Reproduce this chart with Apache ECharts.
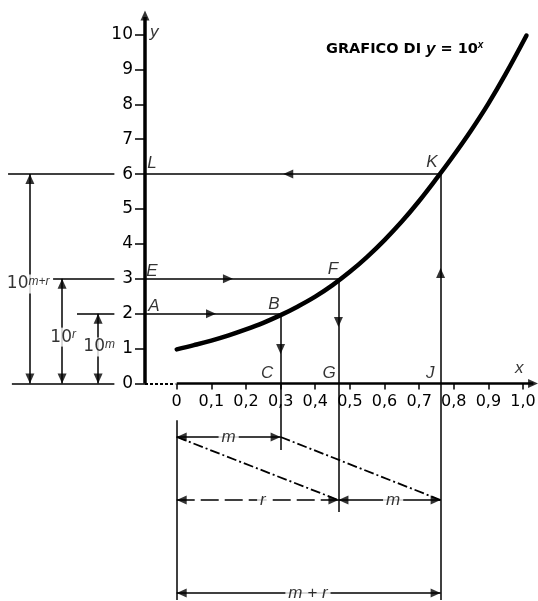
<!DOCTYPE html>
<html>
<head>
<meta charset="utf-8">
<script src="https://cdn.jsdelivr.net/npm/echarts@6/dist/echarts.min.js"></script>
<style>
  html, body { margin: 0; padding: 0; background: #fff; }
  #chart { width: 538px; height: 601px; }
</style>
</head>
<body>
<div id="chart"></div>
<script>
// curva y = 10^x
var curveX = [0, 0.05, 0.1, 0.15, 0.2, 0.25, 0.3, 0.35, 0.4, 0.45, 0.5, 0.55, 0.6, 0.65, 0.7, 0.75, 0.8, 0.85, 0.9, 0.95, 1.01]
var curveY = [0.98, 1.10, 1.23, 1.38, 1.55, 1.74, 1.96, 2.21, 2.49, 2.82, 3.20, 3.63, 4.11, 4.64, 5.23, 5.87, 6.54, 7.25, 8.02, 8.87, 9.97]

var xTicks = [0, 0.1, 0.2, 0.3, 0.4, 0.5, 0.6, 0.7, 0.8, 0.9, 1.0]
var xTickLabels = ['0', '0,1', '0,2', '0,3', '0,4', '0,5', '0,6', '0,7', '0,8', '0,9', '1,0']
var yTicks = [0, 1, 2, 3, 4, 5, 6, 7, 8, 9, 10]

var xB = 0.3, xF = 0.467, xK = 0.762
var yB = 2, yF = 3, yK = 6
var xAxisY = -0.0916   // dove sta l'asse y
var xLeftEnd = -0.18   // fine delle linee a sinistra delle etichette

// segmenti [x1, y1, x2, y2]
var thinSegs = [
  [-0.487, yK, xLeftEnd, yK], [xAxisY, yK, xK, yK],
  [-0.357, yF, xLeftEnd, yF], [xAxisY, yF, xF, yF],
  [-0.288, yB, xLeftEnd, yB], [xAxisY, yB, xB, yB],
  [-0.476, 0, xLeftEnd, 0],
  [xB, yB, xB, -1.9],
  [xF, yF, xF, -3.68],
  [xK, yK, xK, -6.2],
  [0, -1.05, 0, -6.2],
  [-0.424, 0, -0.424, yK],
  [-0.331, 0, -0.331, yF],
  [-0.227, 0, -0.227, yB],
  [0, -1.53, xB, -1.53],
  [xF, -3.337, xK, -3.337],
  [0, -6.0, xK, -6.0]
]
var dashSegs = [[0, -3.337, xF, -3.337]]
var dashDotSegs = [[0, -1.53, xF, -3.337], [xB, -1.53, xK, -3.337]]

// frecce [x, y, rotazione]
var arrows = [
  [xAxisY, 10.54, 0], [1.029, 0, -90],
  [0.322, yK, 90], [0.148, yF, -90], [0.099, yB, -90],
  [xB, 0.988, 180], [xF, 1.76, 180], [xK, 3.165, 0],
  [-0.424, 5.86, 0], [-0.424, 0.143, 180],
  [-0.331, 2.857, 0], [-0.331, 0.143, 180],
  [-0.227, 1.857, 0], [-0.227, 0.143, 180],
  [0.0144, -1.53, 90], [0.2856, -1.53, -90],
  [0.0144, -3.337, 90], [0.4526, -3.337, -90],
  [0.4814, -3.337, 90], [0.7476, -3.337, -90],
  [0.0144, -6.0, 90], [0.7476, -6.0, -90]
]

var pointNames = ['L', 'K', 'E', 'F', 'A', 'B', 'C', 'G', 'J', 'x', 'y']
var pointNameX = [-0.0714, 0.737, -0.0714, 0.451, -0.066, 0.281, 0.261, 0.440, 0.732, 0.989, -0.065]
var pointNameY = [6.3, 6.35, 3.22, 3.28, 2.22, 2.28, 0.30, 0.30, 0.30, 0.44, 10.07]

var dimTexts = ['{i|m}', '{i|r}', '{i|m}', '{i|m + r}', '{n|10}{s|m+r}', '{n|10}{s|r}', '{n|10}{s|m}']
var dimX = [0.15, 0.249, 0.625, 0.379, -0.429, -0.328, -0.224]
var dimY = [-1.53, -3.337, -3.337, -6.0, 2.85, 1.33, 1.05]

var ink = '#000'
var xMin = -0.5103, xMax = 1.0433
var yMin = -6.2, yMax = 10.7

function segData(list) {
  return list.map(function (s) {
    return { coords: [[s[0], s[1]], [s[2], s[3]]] }
  })
}

function segSeries(list, style) {
  return {
    type: 'lines',
    coordinateSystem: 'cartesian2d',
    xAxisIndex: 0,
    yAxisIndex: 0,
    symbol: 'none',
    lineStyle: style,
    data: segData(list)
  }
}

var chart = echarts.init(document.getElementById('chart'))

var options = {
  animation: false,
  backgroundColor: '#fff',
  title: {
    left: 321,
    top: 35,
    text: '{b|GRAFICO DI} {i|y} {b|=} {b|10}{s|x}',
    textStyle: {
      rich: {
        b: { fontFamily: 'DejaVu Sans', fontWeight: 'bold', fontSize: 14.5, color: ink },
        i: { fontFamily: 'Liberation Sans', fontStyle: 'italic', fontWeight: 'bold', fontSize: 17, color: ink },
        s: { fontFamily: 'Liberation Sans', fontStyle: 'italic', fontSize: 10, color: ink, verticalAlign: 'top' }
      }
    }
  },
  grid: [
    // tutto il disegno
    { left: 0, top: 10, width: 538, height: 590, outerBoundsMode: 'none', containLabel: false },
    // asse y (parte da x = 145 px)
    { left: 145, top: 10, width: 393, height: 590, outerBoundsMode: 'none', containLabel: false },
    // asse x: il fondo della griglia cade su y = 0
    { left: 0, top: 10, width: 538, height: 373.5, outerBoundsMode: 'none', containLabel: false }
  ],
  xAxis: [
    { gridIndex: 0, type: 'value', min: xMin, max: xMax, show: false },
    { gridIndex: 1, type: 'value', min: 0, max: 1, show: false },
    {
      gridIndex: 2,
      type: 'value',
      position: 'bottom',
      min: xMin,
      max: xMax,
      axisLine: { show: false, onZero: false },
      axisTick: {
        show: true,
        customValues: xTicks,
        length: 6,
        lineStyle: { color: ink, width: 1.5 }
      },
      axisLabel: {
        customValues: xTicks,
        margin: 10,
        fontFamily: 'DejaVu Sans',
        fontSize: 16,
        color: ink,
        formatter: function (v) {
          return xTickLabels[Math.round(v * 10)]
        }
      },
      splitLine: { show: false }
    }
  ],
  yAxis: [
    { gridIndex: 0, type: 'value', min: yMin, max: yMax, show: false },
    {
      gridIndex: 1,
      type: 'value',
      min: yMin,
      max: yMax,
      position: 'left',
      axisLine: { show: false, onZero: false },
      axisTick: {
        show: true,
        customValues: yTicks,
        length: 10,
        lineStyle: { color: ink, width: 1.5 }
      },
      axisLabel: {
        customValues: yTicks,
        margin: 12,
        fontFamily: 'DejaVu Sans',
        fontSize: 17,
        color: ink
      },
      splitLine: { show: false }
    },
    { gridIndex: 2, type: 'value', min: 0, max: 1, show: false }
  ],
  series: [
    {
      type: 'line',
      xAxisIndex: 0,
      yAxisIndex: 0,
      smooth: 0.4,
      symbol: 'none',
      lineStyle: { color: ink, width: 4.5, cap: 'round' },
      data: curveX.map(function (x, i) { return [x, curveY[i]] }),
      z: 5
    },
    segSeries(thinSegs, { color: ink, width: 1.5, opacity: 1 }),
    segSeries(dashSegs, { color: ink, width: 1.5, opacity: 1, type: [18, 6] }),
    segSeries(dashDotSegs, { color: ink, width: 1.8, opacity: 1, type: [10, 3, 2, 3] }),
    // assi disegnati a mano
    segSeries([[xAxisY, 0, xAxisY, 10.5]], { color: ink, width: 3.5, opacity: 1 }),
    segSeries([[0, 0, 1.03, 0]], { color: ink, width: 2.5, opacity: 1 }),
    segSeries([[xAxisY, 0, -0.004, 0]], { color: ink, width: 2, opacity: 1, type: [3, 2] }),
    {
      type: 'scatter',
      xAxisIndex: 0,
      yAxisIndex: 0,
      symbol: 'triangle',
      symbolSize: [9, 10],
      itemStyle: { color: ink },
      data: arrows.map(function (a) {
        return { value: [a[0], a[1]], symbolRotate: a[2] }
      }),
      z: 6
    },
    {
      type: 'scatter',
      xAxisIndex: 0,
      yAxisIndex: 0,
      symbolSize: 0,
      label: {
        show: true,
        position: 'inside',
        fontFamily: 'Liberation Sans',
        fontStyle: 'italic',
        fontSize: 17,
        color: ink,
        formatter: function (p) { return pointNames[p.dataIndex] }
      },
      data: pointNameX.map(function (x, i) { return [x, pointNameY[i]] }),
      z: 8
    },
    {
      type: 'scatter',
      xAxisIndex: 0,
      yAxisIndex: 0,
      symbolSize: 0,
      label: {
        show: true,
        position: 'inside',
        color: ink,
        backgroundColor: '#fff',
        padding: [1, 3],
        formatter: function (p) { return dimTexts[p.dataIndex] },
        rich: {
          i: { fontFamily: 'Liberation Sans', fontStyle: 'italic', fontSize: 17, color: ink },
          n: { fontFamily: 'DejaVu Sans', fontSize: 17, color: ink },
          s: { fontFamily: 'Liberation Sans', fontStyle: 'italic', fontSize: 12, color: ink, verticalAlign: 'top' }
        }
      },
      data: dimX.map(function (x, i) { return [x, dimY[i]] }),
      z: 9
    }
  ]
}

chart.setOption(options)
</script>
</body>
</html>
